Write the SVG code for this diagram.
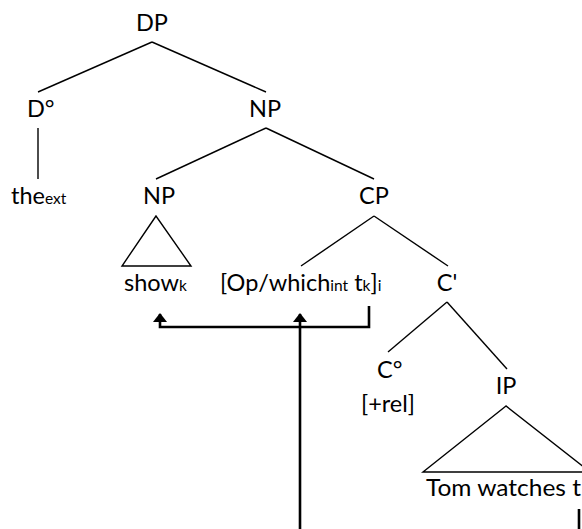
<svg xmlns="http://www.w3.org/2000/svg" width="582" height="529" viewBox="0 0 582 529">
<defs>
<style>
text{font-family:Lato,"Liberation Sans",sans-serif;font-size:23.5px;fill:#000}
.m{text-anchor:middle}
.sub{font-size:15.5px}
.e{stroke:#000;stroke-width:1.4;fill:none}
.arr{stroke:#000;stroke-width:2.6;fill:none}
</style>
<marker id="ah" markerUnits="userSpaceOnUse" markerWidth="16" markerHeight="12" viewBox="0 0 16 12" refX="8" refY="1" orient="0">
<path d="M8,0 L15,9 L1,9 Z" fill="#000"/>
</marker>
</defs>
<rect width="582" height="529" fill="#fff"/>
<g id="connectors">
<line class="e" x1="152" y1="42" x2="38" y2="92"/>
<line class="e" x1="152" y1="42" x2="266" y2="92"/>
<line class="e" x1="38" y1="128" x2="38" y2="179"/>
<line class="e" x1="266" y1="128" x2="156" y2="179"/>
<line class="e" x1="266" y1="128" x2="374" y2="179"/>
<line class="e" x1="374" y1="216" x2="301" y2="266"/>
<line class="e" x1="374" y1="216" x2="448" y2="266"/>
<line class="e" x1="447" y1="302" x2="388" y2="352"/>
<line class="e" x1="447" y1="302" x2="507" y2="369"/>
<path class="arr" d="M369,306 V327 H160 V314" marker-end="url(#ah)"/>
<path class="arr" d="M300,529 V314" marker-end="url(#ah)"/>
<path class="arr" d="M579,509 V529"/>
</g>
<g id="n-DP"><text class="m" x="152" y="31">DP</text></g>
<g id="n-D"><text x="27" y="117">D°</text></g>
<g id="n-NP1"><text class="m" x="265" y="117">NP</text></g>
<g id="n-the"><text x="11" y="204">the<tspan class="sub">ext</tspan></text></g>
<g id="n-NP2"><text class="m" x="159" y="204">NP</text>
<path class="e" d="M156,216 L122,266 L191,266 Z"/></g>
<g id="n-CP"><text class="m" x="374" y="204">CP</text></g>
<g id="n-show"><text x="124" y="291">show<tspan class="sub">k</tspan></text></g>
<g id="n-Op"><text x="220" y="291">[Op/which<tspan class="sub">int</tspan> t<tspan class="sub">k</tspan>]<tspan class="sub">i</tspan></text></g>
<g id="n-Cbar"><text class="m" x="447" y="291">C'</text></g>
<g id="n-C"><text x="377" y="378">C°</text><text class="m" x="388" y="412">[+rel]</text></g>
<g id="n-IP"><text class="m" x="506" y="394">IP</text>
<path class="e" d="M506,406 L423,472 L590,472 Z"/></g>
<g id="n-Tom"><text x="426" y="496" textLength="155" lengthAdjust="spacingAndGlyphs">Tom watches t</text></g>
</svg>
